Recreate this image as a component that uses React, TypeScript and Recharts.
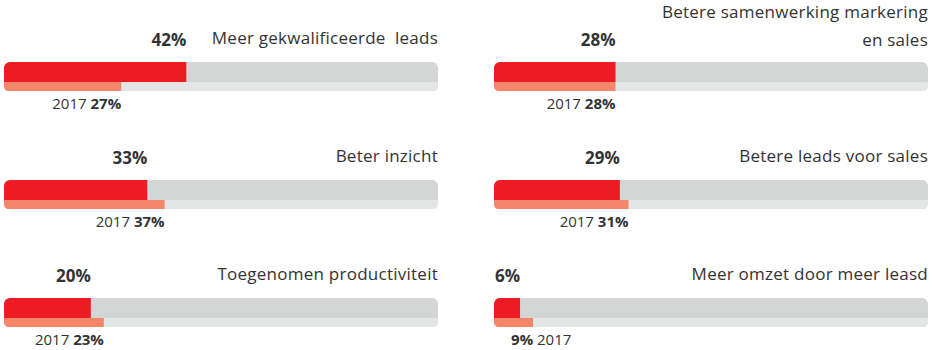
import React from 'react';
import { BarChart, Bar, XAxis, YAxis, LabelList } from 'recharts';

// values
const titles = [
    ['Meer gekwalificeerde  leads'],
    ['Beter inzicht'],
    ['Toegenomen productiviteit'],
    ['Betere samenwerking markering', 'en sales'],
    ['Betere leads voor sales'],
    ['Meer omzet door meer leasd'],
];
const current = [42, 33, 20, 28, 29, 6];
const previous = [27, 37, 23, 28, 31, 9];
const prevYear = '2017';

const RED = '#ed1c24';
const ORANGE = '#f4876a';
const TRACK = '#d3d6d5';
const TRACK_LOW = '#e3e6e5';
const TEXT = '#333333';
const FONT = '"Open Sans", sans-serif';

const CHART_W = 460;
const CHART_H = 118;

const NowLabel = (props: any) => {
    const { x, y, width, value } = props;
    return (
        <text x={x + width} y={y - 16} textAnchor="end" fill={TEXT} fontFamily={FONT} fontSize={17} fontWeight={700}>
            {value}%
        </text>
    );
};

const PrevLabel = (props: any) => {
    const { x, y, width, height, value } = props;
    const end = x + width;
    const ty = y + height + 18;
    if (value < 15) {
        return (
            <text x={end - 22} y={ty} textAnchor="start" fill={TEXT} fontFamily={FONT} fontSize={15}>
                <tspan fontWeight={700}>{value}%</tspan> {prevYear}
            </text>
        );
    }
    return (
        <text x={end} y={ty} textAnchor="end" fill={TEXT} fontFamily={FONT} fontSize={15}>
            {prevYear} <tspan fontWeight={700}>{value}%</tspan>
        </text>
    );
};

const Panel: React.FC<{ i: number; left: number; top: number }> = ({ i, left, top }) => {
    const data = [{ name: 'row', now: current[i], prev: previous[i] }];
    const lines = titles[i];
    return (
        <div style={{ position: 'absolute', left, top, width: CHART_W, height: CHART_H }}>
            {lines.map((t, k) => (
                <div
                    key={k}
                    style={{
                        position: 'absolute',
                        right: 22,
                        top: lines.length === 1 ? 28 : 2 + k * 28,
                        fontFamily: FONT,
                        fontSize: 17,
                        letterSpacing: 0.25,
                        color: TEXT,
                        whiteSpace: 'pre',
                        lineHeight: '20px',
                    }}
                >
                    {t}
                </div>
            ))}
            <BarChart
                width={CHART_W}
                height={CHART_H}
                data={data}
                layout="vertical"
                margin={{ top: 57, right: 22, left: 4, bottom: 22 }}
                barGap={0}
            >
                <XAxis type="number" domain={[0, 100]} hide />
                <YAxis type="category" dataKey="name" hide />
                <Bar
                    dataKey="now"
                    fill={RED}
                    barSize={20}
                    radius={[6, 0, 0, 0]}
                    background={{ fill: TRACK, radius: [6, 6, 0, 0] } as any}
                    isAnimationActive={false}
                >
                    <LabelList dataKey="now" content={NowLabel} />
                </Bar>
                <Bar
                    dataKey="prev"
                    fill={ORANGE}
                    barSize={9}
                    radius={[0, 0, 0, 6]}
                    background={{ fill: TRACK_LOW, radius: [0, 0, 6, 6] } as any}
                    isAnimationActive={false}
                >
                    <LabelList dataKey="prev" content={PrevLabel} />
                </Bar>
            </BarChart>
        </div>
    );
};

const App: React.FC = () => {
    return (
        <div style={{ position: 'absolute', left: 0, top: 0, width: 932, height: 350, background: '#fff' }}>
            {current.map((_, i) => (
                <Panel key={i} i={i} left={i < 3 ? 0 : 490} top={(i % 3) * 118} />
            ))}
        </div>
    );
};

export default App;
